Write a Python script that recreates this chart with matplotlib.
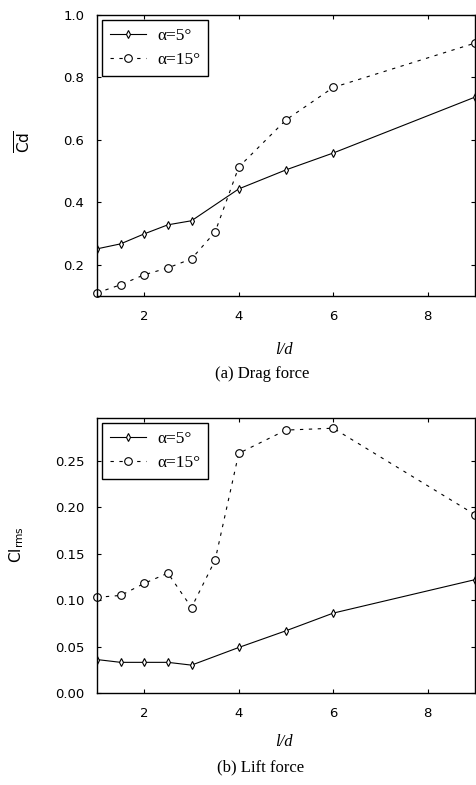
import numpy as np
import matplotlib.pyplot as plt

# spacing ratio l/d
ld = [1, 1.5, 2, 2.5, 3, 3.5, 4, 5, 6, 9]
ld5 = [1, 1.5, 2, 2.5, 3, 4, 5, 6, 9]

# mean drag coefficient
cd_5 = [0.251, 0.267, 0.299, 0.328, 0.341, 0.443, 0.504, 0.558, 0.737]
cd_15 = [0.110, 0.136, 0.168, 0.190, 0.219, 0.305, 0.513, 0.664, 0.768, 0.910]

# rms lift coefficient
cl_5 = [0.036, 0.033, 0.033, 0.033, 0.030, 0.049, 0.067, 0.086, 0.122]
cl_15 = [0.103, 0.105, 0.118, 0.129, 0.092, 0.143, 0.258, 0.283, 0.285, 0.192]

plt.rcParams['mathtext.fontset'] = 'dejavusans'
W, H = 476, 785
fig = plt.figure(figsize=(W / 100, H / 100), dpi=100)

ax1 = fig.add_axes([97 / W, 1 - 296 / H, 378 / W, 281 / H])
ax2 = fig.add_axes([97 / W, 1 - 693 / H, 378 / W, 275 / H])

def style(ax):
    ax.set_xlim(1, 9)
    ax.set_xticks([2, 4, 6, 8])
    ax.tick_params(direction='in', top=True, right=True, length=3, width=0.8,
                   labelsize=9.5)
    ax.tick_params(axis='x', pad=10)
    ax.tick_params(axis='y', pad=9)
    for s in ax.spines.values():
        s.set_linewidth(1.0)

def curves(ax, y5, y15):
    ax.plot(ld5, y5, '-', color='k', lw=0.8, marker='d', ms=4,
            mfc='white', mec='k', mew=0.8, label='α=5°')
    ax.plot(ld, y15, '--', color='k', lw=0.8, dashes=(3, 5), marker='o', ms=5.5,
            mfc='white', mec='k', mew=0.8, label='α=15°', clip_on=False)
    leg = ax.legend(loc='upper left', fancybox=False, edgecolor='k',
                    framealpha=1, handlelength=2.1, handletextpad=0.6,
                    borderaxespad=0.3,
                    prop={'family': 'Liberation Serif', 'size': 12.5},
                    numpoints=1, labelspacing=0.45, borderpad=0.45)
    leg.get_frame().set_linewidth(1.0)

style(ax1)
curves(ax1, cd_5, cd_15)
ax1.set_ylim(0.1, 1.0)
ax1.set_yticks([0.2, 0.4, 0.6, 0.8, 1.0])
ax1.set_yticklabels(['0.2', '0.4', '0.6', '0.8', '1.0'])

style(ax2)
curves(ax2, cl_5, cl_15)
ax2.set_ylim(0, 0.296)
ax2.set_yticks([0, 0.05, 0.10, 0.15, 0.20, 0.25])
ax2.set_yticklabels(['0.00', '0.05', '0.10', '0.15', '0.20', '0.25'])

fig.text(24 / W, 1 - 142 / H, r'$\overline{\mathrm{Cd}}$', rotation=90,
         ha='center', va='center', fontsize=11)
fig.text(17 / W, 1 - 545 / H, r'$\mathrm{Cl}_{\mathrm{rms}}$', rotation=90,
         ha='center', va='center', fontsize=11)

serif = {'family': 'Liberation Serif'}
fig.text(284 / W, 1 - 350 / H, 'l/d', ha='center', va='center', fontsize=12,
         style='italic', **serif)
fig.text(262 / W, 1 - 374 / H, '(a) Drag force', ha='center', va='center',
         fontsize=12, **serif)
fig.text(284 / W, 1 - 742 / H, 'l/d', ha='center', va='center', fontsize=12,
         style='italic', **serif)
fig.text(261 / W, 1 - 767 / H, '(b) Lift force', ha='center', va='center',
         fontsize=12, **serif)

fig.savefig('out.png', dpi=100)
